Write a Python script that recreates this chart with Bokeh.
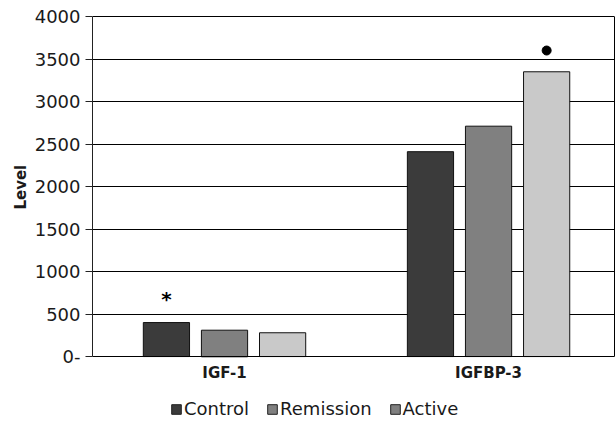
from bokeh.plotting import figure
from bokeh.models import Range1d, FixedTicker, Legend, LegendItem, ColumnDataSource, LinearAxis
from bokeh.core.properties import value
from bokeh.embed import file_html
from bokeh.resources import INLINE

# ---- data ----
categories = ["IGF-1", "IGFBP-3"]
series = ["Control", "Remission", "Active"]
control = [400, 2410]
remission = [310, 2710]
active = [280, 3350]
y_ticks = [0, 500, 1000, 1500, 2000, 2500, 3000, 3500, 4000]
y_tick_labels = ["0-", "500", "1000", "1500", "2000", "2500", "3000", "3500", "4000"]
# significance markers: (category, series, level)
star_marks = [("IGF-1", "Control", 680)]
dot_marks = [("IGFBP-3", "Active", 3600)]

# ---- style ----
bar_colors = ["#3b3b3b", "#808080", "#c9c9c9"]
legend_colors = ["#3b3b3b", "#808080", "#808080"]
offsets = [-0.22, 0.0, 0.22]
bar_width = 0.175
FONT = "DejaVu Sans"

cat_pos = {c: i + 0.5 for i, c in enumerate(categories)}
ser_off = dict(zip(series, offsets))
y_top = y_ticks[-1]

p = figure(width=616, height=421,
           x_range=Range1d(0, 1.977), y_range=Range1d(-764, 4012),
           output_backend="svg", toolbar_location=None, x_axis_location=None,
           min_border_left=92, min_border_right=2, min_border_top=15, min_border_bottom=0)

p.outline_line_color = None
p.xgrid.visible = False
p.ygrid.grid_line_color = "black"
p.ygrid.grid_line_alpha = 1.0
p.ygrid.ticker = FixedTicker(ticks=y_ticks)

# legend proxies: zero-height bars sitting on the axis line
items = []
for s, col in zip(series, legend_colors):
    r = p.vbar(x=[cat_pos[categories[0]]], top=[0], bottom=0, width=bar_width,
               fill_color=col, line_color="#222222")
    items.append(LegendItem(label=s, renderers=[r]))

values = [control, remission, active]
for s, vals, col in zip(series, values, bar_colors):
    src = ColumnDataSource(dict(x=[cat_pos[c] + ser_off[s] for c in categories], top=vals))
    p.vbar(x="x", top="top", width=bar_width, bottom=0, source=src,
           fill_color=col, line_color="#111111", line_width=1)

# markers
p.text(x=[cat_pos[c] + ser_off[s] for c, s, v in star_marks],
       y=[v for c, s, v in star_marks], text=["*"] * len(star_marks),
       text_align="center", text_baseline="middle", text_font=value(FONT),
       text_font_size="20px", text_font_style="bold", text_color="black")
p.scatter(x=[cat_pos[c] + ser_off[s] for c, s, v in dot_marks],
          y=[v for c, s, v in dot_marks], size=9, color="black")

# y axis
ya = p.yaxis[0]
ya.bounds = (0, y_top)
ya.ticker = FixedTicker(ticks=y_ticks)
ya.major_label_overrides = dict(zip(y_ticks, y_tick_labels))
ya.major_tick_out = 7
ya.major_tick_in = 0
ya.minor_tick_out = 0
ya.minor_tick_in = 0
ya.major_label_standoff = 5
ya.axis_line_color = "#222222"
ya.major_tick_line_color = "#222222"
ya.major_label_text_font = FONT
ya.major_label_text_font_size = "18px"
ya.major_label_text_color = "#1a1a1a"
# leading no-break spaces keep the label centred on the 0-4000 span
ya.axis_label = "\u00a0" * 12 + "Level"
ya.axis_label_text_font = FONT
ya.axis_label_text_font_size = "15px"
ya.axis_label_text_font_style = "bold"
ya.axis_label_text_color = "#1a1a1a"
ya.axis_label_standoff = 2

# right border line (plot-area edge from 0 to top)
ra = LinearAxis(bounds=(0, y_top), ticker=FixedTicker(ticks=[]),
                major_tick_out=0, major_tick_in=0, minor_tick_out=0, minor_tick_in=0,
                major_label_text_font_size="0px", axis_line_color="black")
p.add_layout(ra, "right")

# x axis fixed at level 0
xa = LinearAxis(fixed_location=0,
                ticker=FixedTicker(ticks=[cat_pos[c] for c in categories]),
                major_label_overrides={cat_pos[c]: c for c in categories},
                major_tick_out=0, major_tick_in=0, minor_tick_out=0, minor_tick_in=0,
                axis_line_color="black", major_label_standoff=7,
                major_label_text_font=FONT, major_label_text_font_size="15px",
                major_label_text_font_style="bold", major_label_text_color="#1a1a1a")
p.add_layout(xa, "below")

legend = Legend(items=items, orientation="horizontal", location=(78, 2),
                border_line_color=None, background_fill_alpha=0,
                padding=0, margin=0, spacing=17, label_standoff=2,
                glyph_width=12, glyph_height=12,
                label_text_font=FONT, label_text_font_size="18px",
                label_text_color="#1a1a1a")
p.add_layout(legend)

open("out.html", "w").write(file_html(p, INLINE))
